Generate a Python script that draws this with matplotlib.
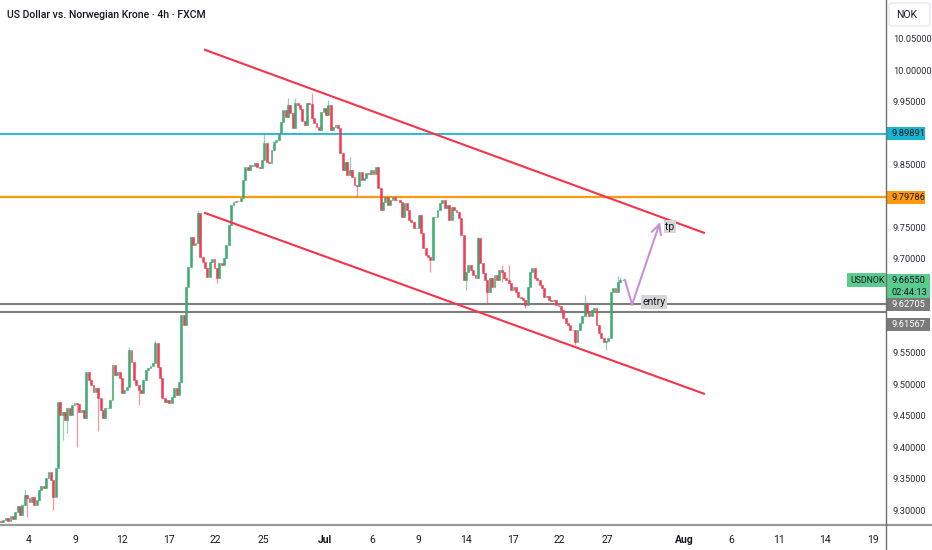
import matplotlib
matplotlib.use("Agg")
import matplotlib.pyplot as plt
from matplotlib.patches import Rectangle, FancyBboxPatch
from matplotlib.lines import Line2D

plt.rcParams['font.family'] = ['Roboto', 'DejaVu Sans']

# 4h closes (open = previous close)
first_open = 9.283
closes_early_jun = [9.281, 9.284, 9.287, 9.282, 9.290, 9.286, 9.297, 9.306, 9.292, 9.308,
                    9.324, 9.319, 9.313, 9.321, 9.308, 9.316, 9.332, 9.338, 9.335, 9.351,
                    9.360, 9.348, 9.321, 9.367, 9.472]
closes_mid_jun = [9.451, 9.456, 9.443, 9.462, 9.451, 9.467, 9.470, 9.469, 9.456, 9.459,
                  9.446, 9.520, 9.507, 9.499, 9.488, 9.494, 9.478, 9.459, 9.446, 9.462,
                  9.462, 9.475, 9.531, 9.515, 9.520, 9.510, 9.486, 9.491, 9.496, 9.555,
                  9.535, 9.507, 9.499, 9.491, 9.486, 9.507, 9.523, 9.526, 9.529, 9.534,
                  9.566, 9.528, 9.510, 9.478, 9.472, 9.475, 9.470, 9.480, 9.494, 9.483,
                  9.504, 9.610]
closes_late_jun = [9.594, 9.655, 9.687, 9.734, 9.722, 9.725, 9.773, 9.703, 9.695, 9.685,
                   9.671, 9.695, 9.699, 9.685, 9.669, 9.693, 9.690, 9.701, 9.722, 9.753,
                   9.785, 9.790, 9.792, 9.791, 9.796, 9.825, 9.846, 9.841, 9.849, 9.848,
                   9.852, 9.846, 9.844, 9.857, 9.884, 9.854, 9.852, 9.873, 9.885, 9.889,
                   9.900, 9.917, 9.936, 9.925, 9.944, 9.932, 9.908, 9.948, 9.944, 9.938,
                   9.919, 9.913, 9.948, 9.946, 9.924, 9.916, 9.909, 9.905, 9.933, 9.940,
                   9.928, 9.944, 9.905, 9.909]
closes_jul = [9.913, 9.908, 9.868, 9.841, 9.854, 9.833, 9.841, 9.830, 9.817, 9.815,
              9.838, 9.825, 9.828, 9.836, 9.835, 9.841, 9.835, 9.846, 9.812, 9.777,
              9.790, 9.798, 9.785, 9.793, 9.798, 9.793, 9.793, 9.790, 9.766, 9.788,
              9.777, 9.761, 9.758, 9.749, 9.749, 9.769, 9.741, 9.717, 9.706, 9.703,
              9.698, 9.766, 9.766, 9.777, 9.788, 9.793, 9.780, 9.785, 9.761, 9.782,
              9.777, 9.774, 9.765, 9.738, 9.666, 9.679, 9.690, 9.682, 9.674, 9.669,
              9.733, 9.693, 9.677, 9.666, 9.647, 9.669, 9.655, 9.674, 9.666, 9.682,
              9.679, 9.669, 9.666, 9.661, 9.650, 9.655, 9.647, 9.639, 9.637, 9.634,
              9.626, 9.655, 9.679, 9.685, 9.669, 9.666, 9.658, 9.653, 9.639, 9.640,
              9.634, 9.633, 9.634, 9.626, 9.625, 9.618, 9.605, 9.598, 9.594, 9.586,
              9.586, 9.567, 9.586, 9.598, 9.609, 9.629, 9.613, 9.609, 9.618, 9.621,
              9.594, 9.582, 9.574, 9.567, 9.569, 9.574, 9.647, 9.653, 9.647, 9.663,
              9.666, 9.6655]

# visible wicks (bar index -> price)
wick_high = {10: 9.333, 54: 9.560, 65: 9.570, 83: 9.777, 111: 9.900, 121: 9.955,
             124: 9.955, 131: 9.963, 138: 9.953, 147: 9.862, 201: 9.735, 211: 9.690,
             214: 9.690, 246: 9.642, 260: 9.672, 261: 9.670}
wick_low = {11: 9.289, 22: 9.300, 26: 9.411, 28: 9.422, 32: 9.400, 41: 9.425,
            58: 9.467, 91: 9.661, 150: 9.798, 181: 9.679, 196: 9.650, 205: 9.629,
            211: 9.663, 221: 9.621, 242: 9.562, 255: 9.555}

# horizontal levels
level_blue = 9.89891
level_orange = 9.79786
level_gray = [9.62705, 9.61567]
last_price = 9.66550
countdown = "02:44:13"

# channel lines (bar index, price)
upper_line_x = [86.0, 296.3]
upper_line_y = [10.032, 9.741]
lower_line_x = [86.0, 296.3]
lower_line_y = [9.7725, 9.485]

# projected path
path_x = [263.0, 266.0, 277.8]
path_y = [9.666, 9.627, 9.758]

date_ticks = [11.5, 31.5, 51, 71, 90.5, 110.5, 136.5, 156.5, 176, 196, 216, 235.5,
              255.5, 288, 308, 328, 347.5, 367.5]
date_labels = ['4', '9', '12', '17', '22', '25', 'Jul', '6', '9', '14', '17', '22',
               '27', 'Aug', '6', '11', '14', '19']
price_ticks = [9.30, 9.35, 9.40, 9.45, 9.50, 9.55, 9.70, 9.75, 9.85, 9.95, 10.00, 10.05]

UP = '#3dab72'
DOWN = '#ef3e54'
TEXT = '#131722'
FS = 6.7

W, H = 932, 550
fig = plt.figure(figsize=(W / 100, H / 100), dpi=100)
ax_right = 886
ax_bottom = 525
ax = fig.add_axes([0, (H - ax_bottom) / H, ax_right / W, ax_bottom / H])

closes = closes_early_jun + closes_mid_jun + closes_late_jun + closes_jul
opens = [first_open] + closes[:-1]
idx = list(range(len(closes)))

colors = [UP if c >= o else DOWN for o, c in zip(opens, closes)]
bottoms = [min(o, c) for o, c in zip(opens, closes)]
heights = [abs(c - o) for o, c in zip(opens, closes)]

for i in idx:
    lo = wick_low.get(i, bottoms[i])
    hi = wick_high.get(i, bottoms[i] + heights[i])
    if lo < bottoms[i] or hi > bottoms[i] + heights[i]:
        ax.vlines(i, lo, hi, color=colors[i], lw=0.9, alpha=0.55, zorder=3)
ax.bar(idx, heights, bottom=bottoms, width=0.8, color=colors,
       edgecolor=colors, linewidth=0.4, zorder=4)

# levels
ax.axhline(level_blue, color='#1db4d3', lw=1.3, zorder=2)
ax.axhline(level_orange, color='#ff9a10', lw=1.6, zorder=2)
for lv in level_gray:
    ax.axhline(lv, color='#7d7d7d', lw=1.5, zorder=2)

# channel
ax.plot(upper_line_x, upper_line_y, color='#f5334b', lw=1.5, zorder=5)
ax.plot(lower_line_x, lower_line_y, color='#f5334b', lw=1.5, zorder=5)

# projection arrow
PURPLE = '#c991d4'
ax.plot(path_x[:2], path_y[:2], color=PURPLE, lw=1.5, zorder=6)
ax.annotate('', xy=(path_x[2], path_y[2]), xytext=(path_x[1], path_y[1]),
            arrowprops=dict(arrowstyle='->,head_length=0.7,head_width=0.35',
                            color=PURPLE, lw=1.5, shrinkA=0, shrinkB=0), zorder=6)
ax.text(270.3, 9.631, 'entry', fontsize=7.5, color=TEXT, va='center', ha='left',
        zorder=7, bbox=dict(boxstyle='square,pad=0.15', fc='#d6d6d6', ec='none'))
ax.text(280.0, 9.751, 'tp', fontsize=7.5, color=TEXT, va='center', ha='left',
        zorder=7, bbox=dict(boxstyle='square,pad=0.15', fc='#d6d6d6', ec='none'))

# axes limits and ticks
px_per_bar = 2.3725
ax.set_xlim(-1 / px_per_bar, (ax_right - 1) / px_per_bar)
ppx = 0.7 / 440
ax.set_ylim(9.30 - 15 * ppx, 9.30 + 510 * ppx)

ax.set_xticks(date_ticks)
ax.set_xticklabels(date_labels)
for lab in ax.get_xticklabels():
    if lab.get_text() in ('Jul', 'Aug'):
        lab.set_fontweight('bold')
ax.tick_params(axis='x', length=0, pad=7, labelsize=7.5, labelcolor=TEXT)

ax.yaxis.tick_right()
ax.set_yticks(price_ticks)
ax.set_yticklabels(['%.5f' % p for p in price_ticks])
ax.tick_params(axis='y', length=0, pad=5, labelsize=FS, labelcolor='#2a2e39')

for s in ('top', 'left', 'right', 'bottom'):
    ax.spines[s].set_visible(False)
ax.set_facecolor('white')

# frame lines of the price / time scales
fig.add_artist(Line2D([0, 1], [(H - ax_bottom) / H] * 2, color='#9a9a9a', lw=1.6))
fig.add_artist(Line2D([ax_right / W] * 2, [0, 1], color='#6f6f6f', lw=1.0))

# price tags on the scale
ytr = ax.get_yaxis_transform()
axw = ax_right


def price_tag(y_center, lines, fc, tc, width_px=40, height_px=13):
    h = height_px * ppx
    top = y_center + 6.5 * ppx
    ax.add_patch(Rectangle((1.0, top - h), width_px / axw, h, transform=ytr,
                           fc=fc, ec='none', clip_on=False, zorder=10))
    for k, t in enumerate(lines):
        ax.text(1.0 + 5 / axw, y_center - k * 12 * ppx, t, transform=ytr,
                fontsize=FS, color=tc, va='center', ha='left', clip_on=False,
                zorder=11)


price_tag(level_blue, ['%.5f' % level_blue], '#17b5cf', TEXT, width_px=39)
price_tag(level_orange, ['%.5f' % level_orange], '#ff9a0a', TEXT, width_px=39)
price_tag(last_price, ['%.5f' % last_price, countdown], '#5ccb8e', TEXT,
          width_px=44, height_px=26)
price_tag(level_gray[0], ['%.5f' % level_gray[0]], '#7a7a7a', 'white', width_px=44)
price_tag(level_gray[1] - 12.5 * ppx, ['%.5f' % level_gray[1]], '#7a7a7a', 'white',
          width_px=44)

# symbol tag left of the scale
ax.add_patch(Rectangle((1.0 - 39 / axw, last_price - 6.5 * ppx), 39 / axw, 14 * ppx,
                       transform=ytr, fc='#5ccb8e', ec='none', clip_on=False, zorder=10))
ax.text(1.0 - 36 / axw, last_price, 'USDNOK', transform=ytr, fontsize=6.3, color=TEXT,
        va='center', ha='left', clip_on=False, zorder=11)

# currency box
fig.add_artist(FancyBboxPatch((889 / W, 1 - 26 / H), 41 / W, 23 / H,
                              boxstyle='round,pad=0,rounding_size=0.004',
                              fc='white', ec='#e0e3eb', lw=0.8,
                              transform=fig.transFigure))
fig.text(896 / W, 1 - 15 / H, 'NOK', fontsize=7.5, color=TEXT, va='center', ha='left')

fig.text(7 / W, 1 - 15 / H, 'US Dollar vs. Norwegian Krone \u00b7 4h \u00b7 FXCM',
         fontsize=7.6, color=TEXT, fontweight='medium', va='center', ha='left')

fig.savefig('out.png', dpi=100, facecolor='white')
